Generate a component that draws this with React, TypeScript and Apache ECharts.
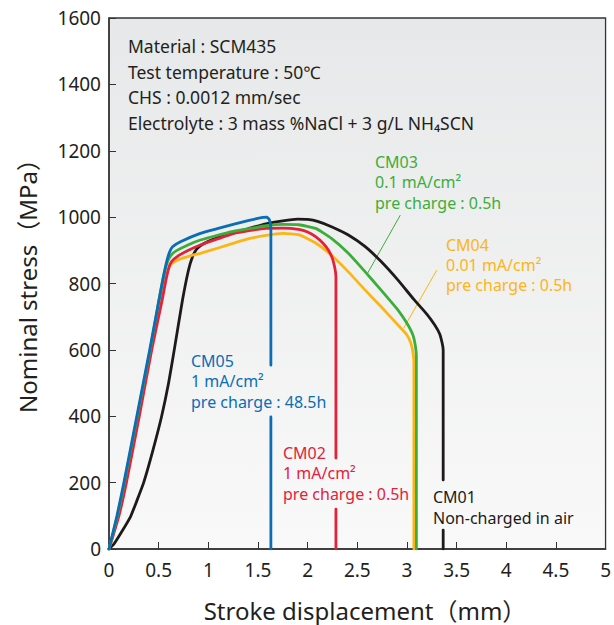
import React, { useEffect, useRef } from "react";
import * as echarts from "echarts";

// Stroke displacement (mm), nominal stress (MPa); "-" marks a break in the line (label gap)
const cm01: [number, number | string][] = [
  [0, 0], [0.05, 15], [0.12, 48], [0.216, 97], [0.28, 145], [0.349, 200], [0.44, 295],
  [0.53, 400], [0.6, 500], [0.657, 600], [0.74, 750], [0.8, 840], [0.84, 880], [0.88, 903],
  [0.93, 916], [1.0, 927], [1.1, 938], [1.25, 952], [1.4, 965], [1.58, 980], [1.75, 989],
  [1.9, 994], [2.0, 993], [2.1, 987], [2.24, 971], [2.41, 946], [2.58, 911], [2.74, 866],
  [2.91, 810], [3.07, 752], [3.2, 708], [3.28, 675], [3.33, 648], [3.355, 620], [3.365, 600],
  [3.365, 208], [3.365, "-"], [3.365, 57], [3.365, 0],
];
const cm02: [number, number | string][] = [
  [0, 0], [0.1, 100], [0.175, 200], [0.305, 400], [0.43, 600], [0.535, 750], [0.57, 805],
  [0.6, 845], [0.63, 866], [0.7, 884], [0.8, 900], [0.92, 916], [1.1, 935], [1.25, 950],
  [1.41, 959], [1.58, 966], [1.75, 967], [1.91, 963], [2.0, 955], [2.08, 941], [2.16, 920],
  [2.21, 900], [2.25, 875], [2.275, 845], [2.285, 820], [2.285, 274], [2.285, "-"],
  [2.285, 120], [2.285, 0],
];
const cm03: [number, number | string][] = [
  [0, 0], [0.085, 100], [0.155, 200], [0.285, 400], [0.415, 600], [0.5, 745], [0.55, 825],
  [0.59, 866], [0.63, 887], [0.68, 899], [0.8, 917], [0.92, 931], [1.1, 946], [1.25, 957],
  [1.41, 965], [1.58, 974], [1.75, 978], [1.91, 977], [2.08, 966], [2.24, 936], [2.41, 891],
  [2.58, 835], [2.74, 780], [2.91, 720], [3.0, 680], [3.06, 645], [3.085, 612], [3.095, 580],
  [3.095, 0],
];
const cm04: [number, number | string][] = [
  [0, 0], [0.09, 100], [0.165, 200], [0.295, 400], [0.42, 600], [0.515, 745], [0.56, 810],
  [0.6, 846], [0.63, 860], [0.7, 872], [0.8, 882], [0.92, 891], [1.1, 907], [1.25, 921],
  [1.41, 935], [1.58, 945], [1.75, 951], [1.91, 947], [2.08, 922], [2.24, 885], [2.41, 835],
  [2.58, 780], [2.74, 730], [2.91, 675], [3.0, 645], [3.04, 620], [3.062, 590], [3.07, 560],
  [3.07, 0],
];
const cm05: [number, number | string][] = [
  [0, 0], [0.08, 100], [0.15, 200], [0.28, 400], [0.41, 600], [0.5, 745], [0.545, 815],
  [0.58, 865], [0.61, 895], [0.64, 911], [0.72, 926], [0.92, 951], [1.1, 966], [1.25, 978],
  [1.41, 990], [1.55, 999], [1.59, 1000], [1.615, 992], [1.63, 965], [1.63, 554], [1.63, "-"],
  [1.63, 398], [1.63, 0],
];
// leader lines from labels to curves
const cm03Leader: [number, number][] = [[2.933, 1006], [2.598, 828]];
const cm04Leader: [number, number][] = [[3.3, 840], [2.966, 665]];

const xMin = 0, xMax = 5, xStep = 0.5;
const yMin = 0, yMax = 1600, yStep = 200;

const infoLines = [
  "Material : SCM435",
  "Test temperature : 50℃",
  "CHS : 0.0012 mm/sec",
  "Electrolyte : 3 mass %NaCl + 3 g/L NH₄SCN",
];
const cm01Label = ["CM01", "Non-charged in air"];
const cm02Label = ["CM02", "1 mA/cm²", "pre charge : 0.5h"];
const cm03Label = ["CM03", "0.1 mA/cm²", "pre charge : 0.5h"];
const cm04Label = ["CM04", "0.01 mA/cm²", "pre charge : 0.5h"];
const cm05Label = ["CM05", "1 mA/cm²", "pre charge : 48.5h"];
const xTitle = "Stroke displacement（mm）";
const yTitle = "Nominal stress（MPa）";

const C_BLACK = "#1e1a1b";
const C_RED = "#e5203a";
const C_GREEN = "#3bae3a";
const C_YELLOW = "#fbb616";
const C_BLUE = "#0a6db5";
const FONT = "'Noto Sans', 'Noto Sans CJK JP', sans-serif";

export default function App() {
  const ref = useRef<HTMLDivElement>(null);
  useEffect(() => {
    if (!ref.current) return;
    const chart = echarts.init(ref.current, null, { renderer: "svg" });
    const curve = (name: string, data: any[], color: string, z: number) => ({
      name,
      type: "line",
      data,
      showSymbol: false,
      symbol: "none",
      smooth: 0.15,
      connectNulls: false,
      z,
      lineStyle: { color, width: 2.8, cap: "round", join: "round" },
    });
    const leader = (data: any[], color: string) => ({
      type: "line",
      data,
      symbol: "none",
      z: 1,
      lineStyle: { color, width: 1 },
    });
    // one text element per line, centred vertically on y + i * step
    const lines = (
      texts: string[],
      x: number,
      y: number,
      step: number,
      color: string,
      size: number
    ) =>
      texts.map((t, i) => ({
        type: "text",
        x,
        y: y + i * step,
        z: 50,
        style: {
          text: t,
          fill: color,
          font: `${size}px ${FONT}`,
          textAlign: "left",
          textVerticalAlign: "middle",
        },
      }));
    chart.setOption({
      animation: false,
      grid: {
        left: 109,
        right: 6,
        top: 18,
        bottom: 76,
        show: true,
        borderColor: "#333",
        borderWidth: 1.3,
        backgroundColor: new echarts.graphic.LinearGradient(0, 0, 0, 1, [
          { offset: 0, color: "#e7e8e9" },
          { offset: 1, color: "#f9f9f9" },
        ]),
      },
      xAxis: {
        type: "value",
        min: xMin,
        max: xMax,
        interval: xStep,
        axisLine: { show: true, lineStyle: { color: "#333", width: 1.5 } },
        axisTick: { show: true, inside: true, length: 7, lineStyle: { color: "#333", width: 1 } },
        splitLine: { show: false },
        axisLabel: { color: "#231f20", fontSize: 19, fontFamily: FONT, margin: 11 },
      },
      yAxis: {
        type: "value",
        min: yMin,
        max: yMax,
        interval: yStep,
        axisLine: { show: true, lineStyle: { color: "#333", width: 1.5 } },
        axisTick: { show: true, inside: true, length: 7, lineStyle: { color: "#333", width: 1 } },
        splitLine: { show: false },
        axisLabel: {
          color: "#231f20",
          fontSize: 19,
          fontFamily: FONT,
          margin: 8,
          formatter: (v: number) => String(v),
        },
      },
      series: [
        leader(cm03Leader, C_GREEN),
        leader(cm04Leader, C_YELLOW),
        curve("CM01", cm01, C_BLACK, 2),
        curve("CM04", cm04, C_YELLOW, 3),
        curve("CM02", cm02, C_RED, 4),
        curve("CM03", cm03, C_GREEN, 5),
        curve("CM05", cm05, C_BLUE, 6),
      ],
      graphic: [
        ...lines(infoLines, 128, 46, 25.5, "#231f20", 17.5),
        ...lines(cm03Label, 375, 162, 20.3, C_GREEN, 16),
        ...lines(cm04Label, 446, 244.5, 20.3, C_YELLOW, 16),
        ...lines(cm05Label, 191, 361, 20.3, C_BLUE, 16),
        ...lines(cm02Label, 283, 453, 20.3, C_RED, 16),
        ...lines(cm01Label, 433, 497, 21, C_BLACK, 16),
        {
          type: "text",
          x: 365,
          y: 610,
          z: 50,
          style: {
            text: xTitle,
            fill: "#231f20",
            font: `24px ${FONT}`,
            textAlign: "center",
            textVerticalAlign: "middle",
          },
        },
        {
          type: "text",
          x: 27,
          y: 280,
          rotation: Math.PI / 2,
          z: 50,
          style: {
            text: yTitle,
            fill: "#231f20",
            font: `24px ${FONT}`,
            textAlign: "center",
            textVerticalAlign: "middle",
          },
        },
      ],
    });
    return () => chart.dispose();
  }, []);
  return (
    <div
      ref={ref}
      style={{ position: "fixed", left: 0, top: 0, width: 614, height: 625, background: "#fff" }}
    />
  );
}
